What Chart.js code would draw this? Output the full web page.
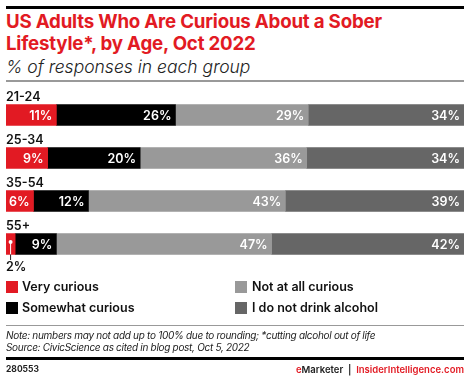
<!DOCTYPE html>
<html><head><meta charset="utf-8">
<script src="https://cdn.jsdelivr.net/npm/chart.js@4"></script>
<style>
html,body{margin:0;padding:0;background:#fff;}
body{width:470px;height:378px;position:relative;overflow:hidden;font-family:Inter,"Noto Sans",sans-serif;}
.abs{position:absolute;white-space:nowrap;}
#topline{left:6px;top:6px;width:458px;height:3px;background:#000;}
#title{left:6px;top:11px;color:#e21a23;font-weight:700;font-size:18.7px;line-height:22px;letter-spacing:-0.2px;}
#sub{left:6px;top:56px;font-style:italic;font-size:17.5px;color:#222;font-weight:300;}
#rule1{left:6px;top:80px;width:458px;height:2px;background:#999;}
.leg{font-size:12.5px;font-weight:600;color:#111;}
.sw{width:12px;height:12px;}
#rule2{left:6px;top:325px;width:458px;height:1px;background:#999;}
.note{left:6px;font-size:10px;font-style:italic;color:#222;letter-spacing:-0.3px;}
#rule3{left:6px;top:357px;width:458px;height:3px;background:#000;}
#fid{left:6px;top:364px;font-size:8.5px;font-weight:700;color:#222;}
#brand{right:6px;top:364px;font-size:9.5px;font-weight:600;color:#222;}
</style></head>
<body>
<div class="abs" id="topline"></div>
<div class="abs" id="title">US Adults Who Are Curious About a Sober<br>Lifestyle*, by Age, Oct 2022</div>
<div class="abs" id="sub">% of responses in each group</div>
<div class="abs" id="rule1"></div>
<canvas id="c" class="abs" style="left:0;top:80px;width:470px;height:200px;" width="470" height="200"></canvas>
<div class="abs sw" style="left:6px;top:281px;background:#e21a23"></div>
<div class="abs leg" style="left:22px;top:279px;">Very curious</div>
<div class="abs sw" style="left:6px;top:302px;background:#000"></div>
<div class="abs leg" style="left:22px;top:300px;">Somewhat curious</div>
<div class="abs sw" style="left:235px;top:281px;background:#999"></div>
<div class="abs leg" style="left:252px;top:279px;">Not at all curious</div>
<div class="abs sw" style="left:235px;top:302px;background:#666"></div>
<div class="abs leg" style="left:252px;top:300px;">I do not drink alcohol</div>
<div class="abs" id="rule2"></div>
<div class="abs note" style="top:329px;">Note: numbers may not add up to 100% due to rounding; *cutting alcohol out of life</div>
<div class="abs note" style="top:341px;">Source: CivicScience as cited in blog post, Oct 5, 2022</div>
<div class="abs" id="rule3"></div>
<div class="abs" id="fid">280553</div>
<div class="abs" id="brand"><span style="color:#e21a23">e</span>Marketer &nbsp;|&nbsp; <span style="color:#e21a23">InsiderIntelligence.com</span></div>
<script>
const categories = ["21-24","25-34","35-54","55+"];
const seriesNames = ["Very curious","Somewhat curious","Not at all curious","I do not drink alcohol"];
const veryCurious = [11,9,6,2];
const somewhatCurious = [26,20,12,9];
const notAtAllCurious = [29,36,43,47];
const doNotDrink = [34,34,39,42];
const colors = ["#e21a23","#000000","#999999","#666666"];

const raw = [veryCurious,somewhatCurious,notAtAllCurious,doNotDrink];
const totals = categories.map((_,i)=>raw.reduce((s,a)=>s+a[i],0));
const datasets = raw.map((arr,k)=>({
  label: seriesNames[k],
  data: arr.map((v,i)=>v/totals[i]*100),
  rawValues: arr,
  backgroundColor: colors[k],
  borderWidth: 0,
  barThickness: 21
}));

const labelPlugin = {
  id:'labels',
  afterDatasetsDraw(chart){
    const ctx = chart.ctx;
    ctx.save();
    const meta0 = chart.getDatasetMeta(0);
    ctx.font = '600 12.5px Inter, "Noto Sans", sans-serif';
    ctx.fillStyle = '#111';
    ctx.textAlign='left'; ctx.textBaseline='alphabetic';
    meta0.data.forEach((bar,i)=>{
      ctx.fillText(categories[i], chart.chartArea.left, bar.y - 14.5);
    });
    ctx.font = '600 12.5px Inter, "Noto Sans", sans-serif';
    ctx.textBaseline='middle';
    chart.data.datasets.forEach((ds,k)=>{
      const meta = chart.getDatasetMeta(k);
      meta.data.forEach((bar,i)=>{
        const v = ds.rawValues[i];
        const w = Math.abs(bar.x - bar.base);
        const txt = v + '%';
        if (w > 24){
          ctx.fillStyle='#fff'; ctx.textAlign='right';
          ctx.fillText(txt, bar.x - 4, bar.y+1);
        } else {
          const cx = (bar.x + bar.base)/2;
          ctx.fillStyle='#fff';
          ctx.beginPath(); ctx.arc(cx, bar.y-2, 2, 0, Math.PI*2); ctx.fill();
          ctx.strokeStyle='#fff'; ctx.lineWidth=1;
          ctx.beginPath(); ctx.moveTo(cx, bar.y-2); ctx.lineTo(cx, bar.y+10.5); ctx.stroke();
          ctx.strokeStyle='#222';
          ctx.beginPath(); ctx.moveTo(cx, bar.y+10.5); ctx.lineTo(cx, bar.y+16); ctx.stroke();
          ctx.fillStyle='#111'; ctx.textAlign='left';
          ctx.fillText(txt, chart.chartArea.left, bar.y + 23);
        }
      });
    });
    ctx.restore();
  }
};

new Chart(document.getElementById('c'),{
  type:'bar',
  data:{labels:categories, datasets},
  options:{
    indexAxis:'y',
    responsive:false,
    animation:false,
    layout:{padding:{left:6,right:6,top:13.5,bottom:14.5}},
    plugins:{legend:{display:false},tooltip:{enabled:false}},
    scales:{
      x:{stacked:true,min:0,max:100,display:false},
      y:{stacked:true,display:false}
    }
  },
  plugins:[labelPlugin]
});
</script>
</body></html>
